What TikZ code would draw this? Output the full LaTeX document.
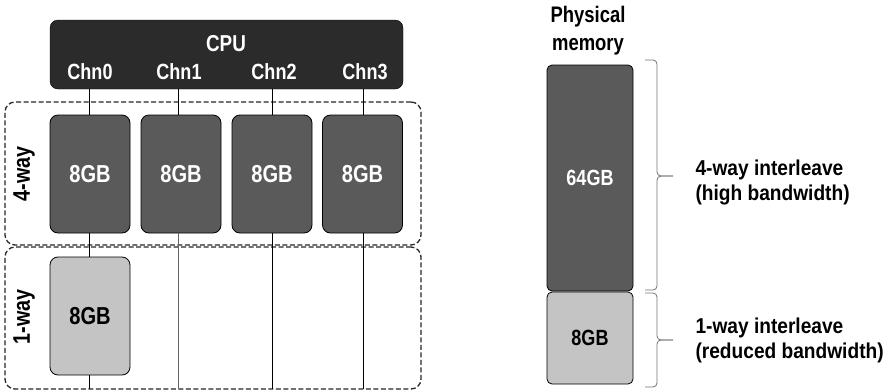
\documentclass[tikz,border=0pt]{standalone}
\usepackage{fontspec}
\setmainfont[FakeStretch=0.82]{Liberation Sans}
\newfontfamily\widerf[FakeStretch=0.89]{Liberation Sans}
\definecolor{cpuc}{HTML}{2B2B2B}
\definecolor{darkmem}{HTML}{5A5A5A}
\definecolor{lightmem}{HTML}{C4C4C4}
\tikzset{
  big/.style={font=\bfseries\fontsize{24.5}{24.5}\selectfont},
  chn/.style={font=\bfseries\fontsize{22}{22}\selectfont, text=white},
  side/.style={font=\bfseries\fontsize{22}{22}\selectfont},
  memdark/.style={draw=black, line width=0.8pt, fill=darkmem, rounded corners=8pt, minimum width=80pt, minimum height=118pt, text=white, big, inner sep=0pt},
  memlight/.style={memdark, fill=lightmem, text=black},
  group/.style={draw=black!85, dash pattern=on 5pt off 2.5pt, line width=1.3pt, rounded corners=10pt},
  wire/.style={draw=black, line width=0.8pt},
  lbl/.style={font=\widerf\bfseries\fontsize{21.5}{25}\selectfont, align=left, anchor=west},
  brc/.style={draw=black!55, line width=0.8pt, rounded corners=4pt}
}
\begin{document}
\begin{tikzpicture}[x=1pt,y=-1pt]
\useasboundingbox (0,0) rectangle (889,389);
% CPU
\node[draw=black, fill=cpuc, rounded corners=8pt, minimum width=353pt, minimum height=69pt, inner sep=0pt] (cpu) at (226.5,54.5) {};
\node[chn, font=\bfseries\fontsize{23}{23}\selectfont] (cput) at (226,44) {CPU};
\node[chn] (c0) at (90,72) {Chn0};
\node[chn] (c1) at (179,72) {Chn1};
\node[chn] (c2) at (274,72) {Chn2};
\node[chn] (c3) at (365,72) {Chn3};
% groups
\node[group, minimum width=416pt, minimum height=143pt, inner sep=0pt] (g4) at (213,173.5) {};
\node[group, minimum width=416pt, minimum height=142pt, inner sep=0pt] (g1) at (213,318) {};
\node[rotate=90, big, font=\bfseries\fontsize{24}{24}\selectfont] (l4) at (24,174) {4-way};
\node[rotate=90, big, font=\bfseries\fontsize{24}{24}\selectfont] (l1) at (24,317) {1-way};
% memory modules
\node[memdark] (m0) at (90,174) {8GB};
\node[memdark] (m1) at (181,174) {8GB};
\node[memdark] (m2) at (272,174) {8GB};
\node[memdark] (m3) at (362.5,174) {8GB};
\node[memlight] (m4) at (90,316) {8GB};
% bottom ends
\coordinate (b0) at (89,389);
\coordinate (b1) at (178,389);
\coordinate (b2) at (272,389);
\coordinate (b3) at (363,389);
% wires
\draw[wire] (b0 |- m0.north) -- (b0 |- cpu.south);
\draw[wire] (b1 |- m1.north) -- (b1 |- cpu.south);
\draw[wire] (m2.north) -- (m2.north |- cpu.south);
\draw[wire] (b3 |- m3.north) -- (b3 |- cpu.south);
\draw[wire] (b0 |- m0.south) -- (b0 |- m4.north);
\draw[wire] (b0 |- m4.south) -- (b0);
\draw[wire, draw=black!60] (b1 |- m1.south) -- (b1);
\draw[wire] (m2.south) -- (b2);
\draw[wire] (b3 |- m3.south) -- (b3);
% physical memory
\node[font=\bfseries\fontsize{22.5}{28}\selectfont, align=center] (pm) at (588,31) {Physical\\memory};
\node[draw=black, line width=0.8pt, fill=darkmem, rounded corners=5pt, minimum width=86pt, minimum height=226pt, inner sep=0pt, text=white, side] (p64) at (590,178) {64GB};
\node[draw=black, line width=0.8pt, fill=lightmem, rounded corners=5pt, minimum width=86pt, minimum height=92pt, inner sep=0pt, side] (p8) at (590,338) {8GB};
% braces
\coordinate (bt1) at (645,60);
\coordinate (bb1) at (645,290);
\coordinate (tip1) at (673,176);
\coordinate (bt2) at (645,293);
\coordinate (bb2) at (645,387);
\coordinate (tip2) at (673,340);
\coordinate (v) at (657,0);
\draw[brc] (bt1) -| (v |- tip1) -- (tip1);
\draw[brc] (bb1) -| (v |- tip1) -- (tip1);
\draw[brc] (bt2) -| (v |- tip2) -- (tip2);
\draw[brc] (bb2) -| (v |- tip2) -- (tip2);
\node[lbl] (t4) at (692,182) {4-way interleave\\(high bandwidth)};
\node[lbl] (t1) at (692,340) {1-way interleave\\(reduced bandwidth)};
\end{tikzpicture}
\end{document}
